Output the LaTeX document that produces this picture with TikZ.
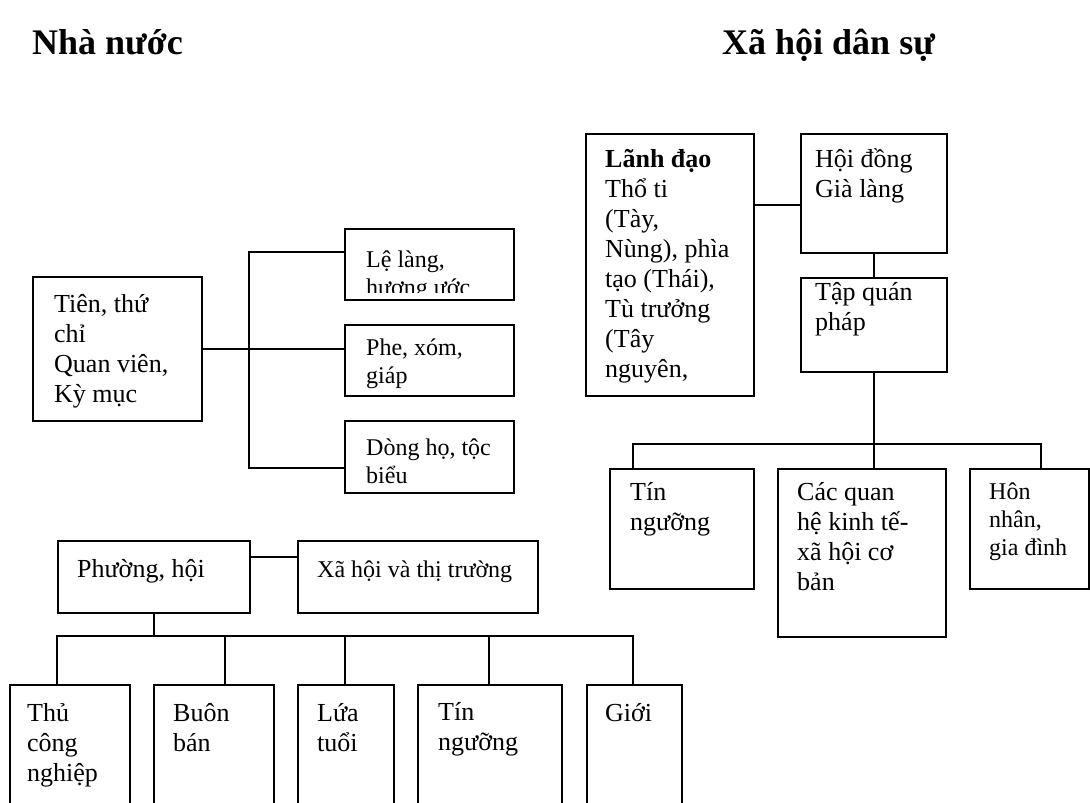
\documentclass[tikz,border=0pt]{standalone}
\usepackage{fontspec}
\setmainfont{Liberation Serif}
\newcommand\mytxtA{\fontsize{26}{30}\selectfont}
\newcommand\mytxtB{\fontsize{24}{28}\selectfont}
\begin{document}
\begin{tikzpicture}[x=1pt,y=-1pt,
  box/.style={draw,line width=1.8pt,rectangle,inner sep=0pt,anchor=north west},
  ln/.style={line width=1.8pt},
  txt/.style={inner sep=0pt,anchor=base west},
  ttl/.style={inner sep=0pt,anchor=base west,font=\fontsize{36}{40}\selectfont\bfseries},
]
\useasboundingbox (0,0) rectangle (1090,803);
\clip (0,0) rectangle (1090,803);

% titles
\node[ttl] (t1) at (32,54) {Nhà nước};
\node[ttl] (t2) at (722,54) {Xã hội dân sự};

% left upper group
\node[box,minimum width=169pt,minimum height=144pt] (tien) at (32,276) {};
\node[txt] (tient) at (54,312) {\parbox[t]{140pt}{\raggedright\mytxtA Tiên, thứ\\chỉ\\Quan viên,\\Kỳ mục}};

\node[box,minimum width=169pt,minimum height=71pt] (le) at (344,228) {};
\node[box,minimum width=169pt,minimum height=71pt] (phe) at (344,324) {};
\node[box,minimum width=169pt,minimum height=72pt] (dong) at (344,420) {};
\begin{scope}
  \clip (le.north west) rectangle ([yshift=8pt]le.south east);
  \node[txt] (let) at (366,267) {\parbox[t]{140pt}{\raggedright\mytxtB Lệ làng,\\hương ước}};
\end{scope}
\begin{scope}
  \clip (phe.north west) rectangle ([yshift=8pt]phe.south east);
  \node[txt] (phet) at (366,355) {\parbox[t]{140pt}{\raggedright\mytxtB Phe, xóm,\\giáp}};
\end{scope}
\begin{scope}
  \clip (dong.north west) rectangle ([yshift=8pt]dong.south east);
  \node[txt] (dongt) at (366,455) {\parbox[t]{140pt}{\raggedright\mytxtB Dòng họ, tộc\\biểu}};
\end{scope}

\coordinate (b1t) at (249,252);
\coordinate (b1b) at (249,468);
\draw[ln] (tien.east) -- (tien.east -| phe.west);
\draw[ln] (b1t -| le.west) -- (b1t) -- (b1b) -- (b1b -| dong.west);

% right group
\node[box,minimum width=168pt,minimum height=262pt] (lanh) at (585,133) {};
\node[txt] (lanht) at (605,167) {\parbox[t]{150pt}{\raggedright\mytxtA {\bfseries Lãnh đạo}\\Thổ ti\\(Tày,\\Nùng), phìa\\tạo (Thái),\\Tù trưởng\\(Tây\\nguyên,}};
\node[box,minimum width=146pt,minimum height=119pt] (hoi) at (800,133) {};
\node[txt] (hoit) at (815,167) {\parbox[t]{130pt}{\raggedright\mytxtA Hội đồng\\Già làng}};
\node[box,minimum width=146pt,minimum height=94pt] (tap) at (800,277) {};
\node[txt] (tapt) at (815,300) {\parbox[t]{130pt}{\raggedright\mytxtA Tập quán\\pháp}};

\node[box,minimum width=144pt,minimum height=120pt] (tinr) at (609,468) {};
\node[txt] (tinrt) at (630,500) {\parbox[t]{120pt}{\raggedright\mytxtA Tín\\ngưỡng}};
\node[box,minimum width=168pt,minimum height=168pt] (cac) at (777,468) {};
\node[txt] (cact) at (797,500) {\parbox[t]{150pt}{\raggedright\mytxtA Các quan\\hệ kinh tế-\\xã hội cơ\\bản}};
\node[box,minimum width=119pt,minimum height=120pt] (hon) at (969,468) {};
\node[txt] (hont) at (989,499) {\parbox[t]{100pt}{\raggedright\mytxtB Hôn\\nhân,\\gia đình}};

\coordinate (lh) at (780,205);
\coordinate (rbl) at (633,444);
\coordinate (rbr) at (1041,444);
\draw[ln] (lh -| lanh.east) -- (lh -| hoi.west);
\draw[ln] (hoi.south) -- (tap.north);
\draw[ln] (tap.south) -- (tap.south |- cac.north);
\draw[ln] (rbl |- tinr.north) -- (rbl) -- (rbr) -- (rbr |- hon.north);

% lower left group
\node[box,minimum width=192pt,minimum height=72pt] (phuong) at (57,540) {};
\node[txt] (phuongt) at (77,577) {\mytxtA Phường, hội};
\node[box,minimum width=240pt,minimum height=72pt] (xa) at (297,540) {};
\node[txt] (xat) at (317,577) {\mytxtB Xã hội và thị trường};
\coordinate (px) at (273,557);
\draw[ln] (px -| phuong.east) -- (px -| xa.west);

\node[box,minimum width=120pt,minimum height=150pt] (thu) at (9,684) {};
\node[txt] (thut) at (27,721) {\parbox[t]{100pt}{\raggedright\mytxtA Thủ\\công\\nghiệp}};
\node[box,minimum width=120pt,minimum height=150pt] (buon) at (153,684) {};
\node[txt] (buont) at (173,721) {\parbox[t]{100pt}{\raggedright\mytxtA Buôn\\bán}};
\node[box,minimum width=96pt,minimum height=150pt] (lua) at (297,684) {};
\node[txt] (luat) at (317,721) {\parbox[t]{80pt}{\raggedright\mytxtA Lứa\\tuổi}};
\node[box,minimum width=144pt,minimum height=150pt] (tinl) at (417,684) {};
\node[txt] (tinlt) at (438,720) {\parbox[t]{120pt}{\raggedright\mytxtA Tín\\ngưỡng}};
\node[box,minimum width=95pt,minimum height=150pt] (gioi) at (586,684) {};
\node[txt] (gioit) at (605,721) {\mytxtA Giới};

\coordinate (lbl) at (57,636);
\coordinate (lbr) at (633,636);
\coordinate (d2) at (225,636);
\coordinate (d3) at (345,636);
\coordinate (d4) at (489,636);
\draw[ln] (phuong.south) -- (phuong.south |- lbl);
\draw[ln] (lbl |- thu.north) -- (lbl) -- (lbr) -- (lbr |- gioi.north);
\draw[ln] (d2) -- (d2 |- buon.north);
\draw[ln] (d3) -- (d3 |- lua.north);
\draw[ln] (d4) -- (d4 |- tinl.north);
\end{tikzpicture}
\end{document}
